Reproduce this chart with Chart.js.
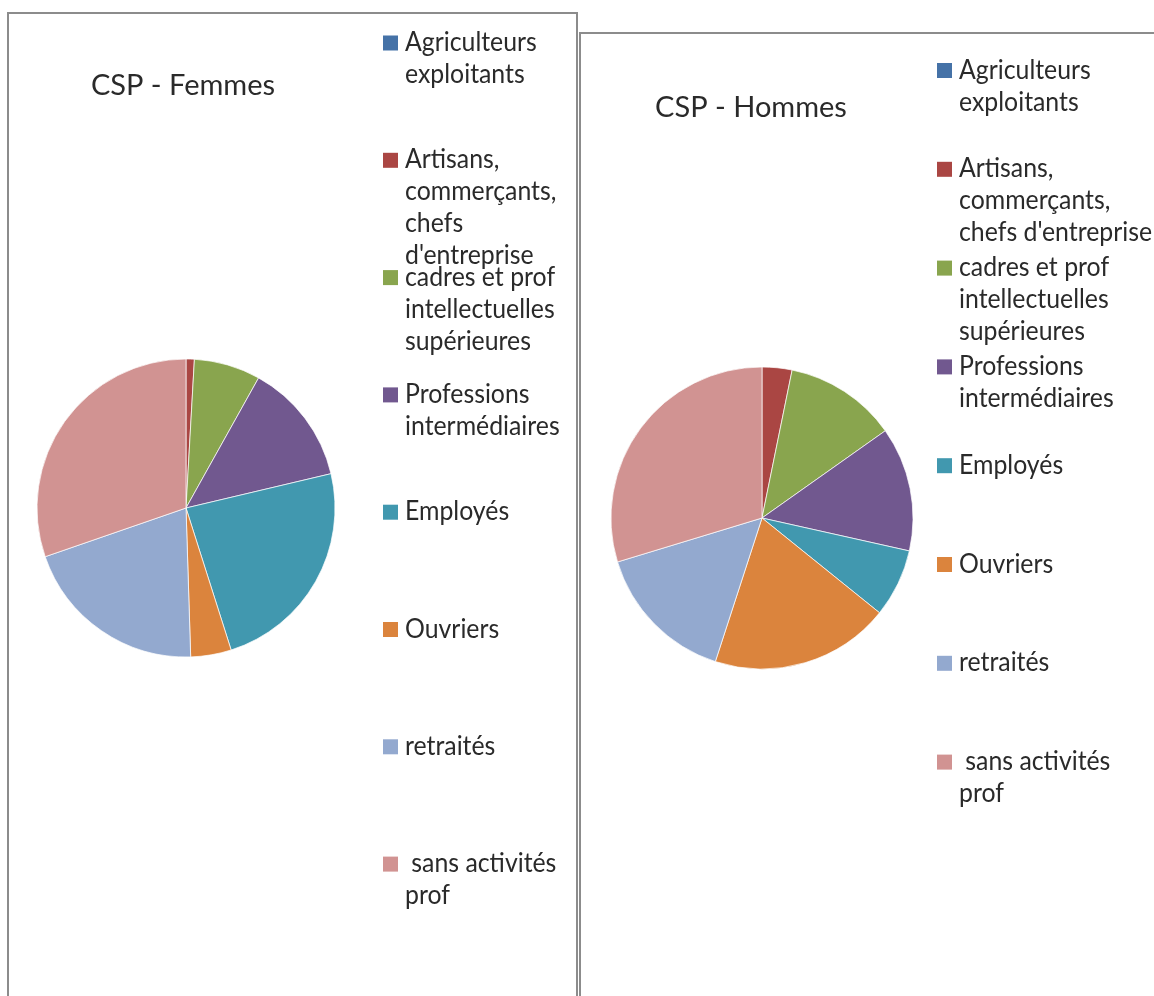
<!DOCTYPE html>
<html>
<head>
<meta charset="utf-8">
<title>CSP - Femmes / Hommes</title>
<script src="https://cdn.jsdelivr.net/npm/chart.js@4.4.1/dist/chart.umd.min.js"></script>
<style>
    html, body { margin: 0; padding: 0; background: #fff; width: 1154px; height: 996px; overflow: hidden; }
    .box { position: absolute; border: 2px solid #8c8c8c; }
    #box-femmes { left: 7px; top: 12px; width: 567px; height: 1100px; }
    #box-hommes { left: 579px; top: 32px; width: 700px; height: 1100px; }
    canvas { position: absolute; top: 0; }
    #chart-femmes { left: 0; }
    #chart-hommes { left: 580px; }
</style>
</head>
<body>
<div class="box" id="box-femmes"></div>
<div class="box" id="box-hommes"></div>
<canvas id="chart-femmes" width="578" height="996"></canvas>
<canvas id="chart-hommes" width="574" height="996"></canvas>

<script>
// legend texts, wrapped the way the original shows them
const labelsFemmes = [
    ["Agriculteurs", "exploitants"],
    ["Artisans,", "commerçants,", "chefs", "d'entreprise"],
    ["cadres et prof", "intellectuelles", "supérieures"],
    ["Professions", "intermédiaires"],
    ["Employés"],
    ["Ouvriers"],
    ["retraités"],
    [" sans activités", "prof"]
];
const labelsHommes = [
    ["Agriculteurs", "exploitants"],
    ["Artisans,", "commerçants,", "chefs d'entreprise"],
    ["cadres et prof", "intellectuelles", "supérieures"],
    ["Professions", "intermédiaires"],
    ["Employés"],
    ["Ouvriers"],
    ["retraités"],
    [" sans activités", "prof"]
];
// share of each CSP, in %
const valuesFemmes = [0, 0.9, 7.2, 13.2, 23.8, 4.4, 20.2, 30.3];
const valuesHommes = [0, 3.2, 12.0, 13.3, 7.3, 19.2, 15.3, 29.7];
const COLORS = ["#4572A7", "#AA4643", "#89A54E", "#71588F", "#4198AF", "#DB843D", "#93A9CF", "#D19392"];
const TEXT_COLOR = "#2a2a2a";

// title drawn at a fixed spot (not centred on the canvas like the built in one)
const sideTitle = {
    id: "sideTitle",
    afterDraw(chart, args, opts) {
        let ctx = chart.ctx;
        ctx.save();
        ctx.font = opts.font;
        ctx.fillStyle = TEXT_COLOR;
        ctx.textAlign = "center";
        ctx.textBaseline = "alphabetic";
        ctx.fillText(opts.text, opts.x, opts.y);
        ctx.restore();
    }
};

// excel style legend: one slot per item, fixed step, wrapped lines
const sideLegend = {
    id: "sideLegend",
    afterDraw(chart, args, opts) {
        let ctx = chart.ctx;
        let labels = chart.data.labels;
        let colors = chart.data.datasets[0].backgroundColor;
        ctx.save();
        ctx.font = opts.font;
        ctx.textBaseline = "alphabetic";
        ctx.textAlign = "left";
        for (let i = 0; i < labels.length; i++) {
            let cy = opts.firstY + i * opts.step;
            ctx.fillStyle = colors[i];
            ctx.fillRect(opts.boxX, cy - 7.5, 15, 15);
            ctx.fillStyle = TEXT_COLOR;
            for (let j = 0; j < labels[i].length; j++) {
                ctx.save();
                ctx.translate(opts.textX, cy + 8 + j * opts.lineHeight);
                ctx.scale(opts.squeeze, 1);
                ctx.fillText(labels[i][j], 0, 0);
                ctx.restore();
            }
        }
        ctx.restore();
    }
};

function makePie(id, labels, values, radius, padding, titleOpts, legendOpts) {
    let ctx = document.getElementById(id).getContext("2d");
    return new Chart(ctx, {
        type: "pie",
        data: {
            labels: labels,
            datasets: [{
                data: values,
                backgroundColor: COLORS,
                borderColor: "rgba(255,255,255,0.7)",
                borderWidth: 1,
                radius: radius
            }]
        },
        options: {
            responsive: false,
            animation: false,
            devicePixelRatio: 1,
            layout: { padding: padding },
            plugins: {
                legend: { display: false },
                title: { display: false },
                tooltip: { enabled: false },
                sideTitle: titleOpts,
                sideLegend: legendOpts
            }
        },
        plugins: [sideTitle, sideLegend]
    });
}

const legendFont = "26px Lato, 'Open Sans', sans-serif";
const titleFont = "29px Lato, 'Open Sans', sans-serif";

let chartF = makePie("chart-femmes", labelsFemmes, valuesFemmes, 149,
    { left: 26, right: 232, top: 348, bottom: 328 },
    { text: "CSP - Femmes", x: 183, y: 95, font: titleFont },
    { boxX: 383, textX: 405, firstY: 43, step: 117.3, lineHeight: 32, squeeze: 0.955, font: legendFont });

let chartH = makePie("chart-hommes", labelsHommes, valuesHommes, 151,
    { left: 22, right: 232, top: 358, bottom: 318 },
    { text: "CSP - Hommes", x: 171, y: 117, font: titleFont },
    { boxX: 357, textX: 379, firstY: 70.5, step: 98.8, lineHeight: 32, squeeze: 0.955, font: legendFont });
</script>
</body>
</html>
